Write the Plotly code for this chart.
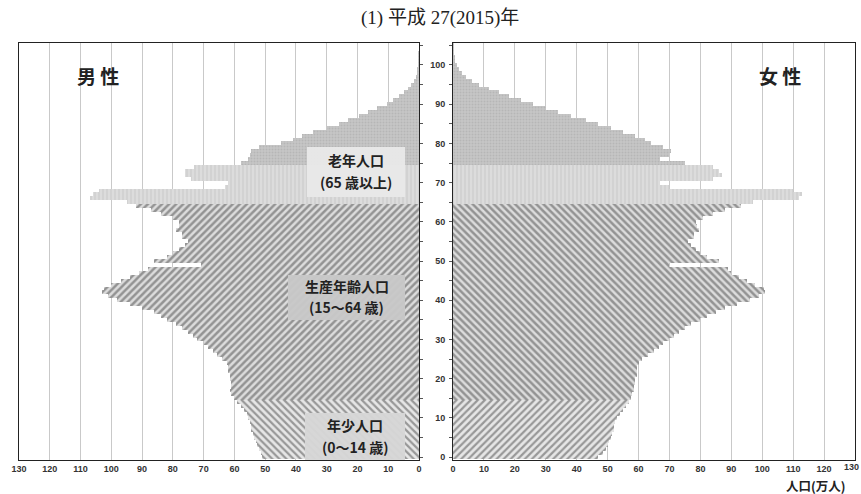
import plotly.graph_objects as go

# ---------------- data (万人) ----------------
ages = list(range(0, 106))

male = [
    51, 51.5, 52, 52.5, 53, 53.5, 54, 54.5, 54.5, 55,          # 0-9
    55.5, 56, 57, 58, 59, 60, 61, 61.5, 61, 61,                # 10-19
    61.5, 61.5, 62, 62, 62.5, 64, 65.5, 67, 68.5, 70,          # 20-29
    72, 73.5, 75, 77, 79, 82, 84, 86, 90, 94,                  # 30-39
    98, 101, 103, 102.5, 100, 97, 94, 91, 88, 71,              # 40-49
    86, 82, 80, 78, 76, 75, 77, 77, 79, 78,                    # 50-59
    78, 80, 84, 87, 92, 95, 107, 106, 104, 63,                 # 60-69
    62, 74, 76, 76, 73, 58, 55.5, 55, 54.5, 52,                # 70-79
    45, 41, 38, 34.5, 30, 26, 23, 19.5, 16.5, 13.5,            # 80-89
    10.5, 8.5, 6.5, 4.8, 3.5, 2.5, 1.7, 1.1, 0.7, 0.45,        # 90-99
    0.3, 0.15, 0.1, 0.05, 0.0, 0.0,                            # 100-105
]

female = [
    47, 48.5, 49.5, 50, 50.5, 51, 51.5, 52, 52, 52.5,          # 0-9
    53, 54, 55, 56, 57, 57.5, 58, 58.5, 58.5, 59,              # 10-19
    59, 59.5, 59.5, 59.5, 60, 61, 63, 65, 66.5, 68,            # 20-29
    70, 71.5, 73, 75, 77, 80, 82, 85, 88, 92,                  # 30-39
    96, 99, 101, 100.5, 97.5, 95, 92.5, 90, 89, 70,            # 40-49
    86, 82, 80, 78.5, 77, 76, 78, 78, 79.5, 79,                # 50-59
    78.5, 81, 84, 88, 93, 97, 112, 113, 110, 70,               # 60-69
    67, 84, 87, 86, 84, 75, 67, 70, 70.5, 68,                  # 70-79
    64, 62, 59, 55, 51, 47, 43, 38, 34, 30,                    # 80-89
    26, 22, 18, 15, 11.5, 8.5, 6, 4.3, 3, 2,                   # 90-99
    1.3, 0.8, 0.5, 0.3, 0.15, 0.08,                            # 100-105
]

groups = [(0, 14), (15, 64), (65, 74), (75, 105)]
group_labels = [("年少人口", "(0～14 歳)"), ("生産年齢人口", "(15～64 歳)"),
                ("老年人口", "(65 歳以上)")]
x_ticks = list(range(0, 131, 10))
age_ticks = list(range(0, 106, 5))
age_ticktext = [str(a) if a % 10 == 0 else "" for a in age_ticks]

# ---------------- styles ----------------
W, H = 861, 494
def px(x): return x / W
def py(y): return 1 - y / H

pat = {
    "left": [
        dict(shape="\\", fgcolor="#4a4a4a", bgcolor="#e6e6e6", size=5, solidity=0.45),
        dict(shape="/", fgcolor="#4a4a4a", bgcolor="#dcdcdc", size=5, solidity=0.5),
        dict(shape="|", fgcolor="#f4f4f4", bgcolor="#d2d2d2", size=4, solidity=0.3),
        dict(shape=".", fgcolor="#a6a6a6", bgcolor="#c6c6c6", size=3, solidity=0.35),
    ],
    "right": [
        dict(shape="/", fgcolor="#4a4a4a", bgcolor="#e6e6e6", size=5, solidity=0.45),
        dict(shape="\\", fgcolor="#4a4a4a", bgcolor="#dcdcdc", size=5, solidity=0.5),
        dict(shape="|", fgcolor="#f4f4f4", bgcolor="#d2d2d2", size=4, solidity=0.3),
        dict(shape=".", fgcolor="#a6a6a6", bgcolor="#c6c6c6", size=3, solidity=0.35),
    ],
}

fig = go.Figure()
for side, vals, xa, ya in [("left", male, "x", "y"), ("right", female, "x2", "y2")]:
    for gi, (a0, a1) in enumerate(groups):
        ys = ages[a0:a1 + 1]
        xs = vals[a0:a1 + 1]
        fig.add_trace(go.Bar(
            y=ys, x=xs, orientation="h", xaxis=xa, yaxis=ya,
            width=1.0,
            marker=dict(color=pat[side][gi]["bgcolor"], line=dict(width=0),
                        pattern=pat[side][gi]),
            showlegend=False, hoverinfo="skip",
        ))

ydom = [py(459.5), py(43)]
tickfont = dict(family="Liberation Sans, Arial", size=9, color="#333333", weight="bold")
common_x = dict(
    tickvals=x_ticks, showgrid=True, gridcolor="#c9c9c9", gridwidth=1,
    showline=True, mirror=True, linecolor="#222222", linewidth=1,
    ticks="", tickfont=tickfont, zeroline=False, automargin=False,
    ticklabelstandoff=1, fixedrange=True,
)
common_y = dict(
    range=[-0.6, 105.6], domain=ydom, tickvals=age_ticks, showgrid=False,
    showline=True, mirror=True, linecolor="#222222", linewidth=1,
    ticks="outside", ticklen=3, tickcolor="#555555", zeroline=False,
    automargin=False, fixedrange=True,
)

fig.update_layout(
    width=W, height=H,
    margin=dict(l=0, r=0, t=0, b=0),
    paper_bgcolor="white", plot_bgcolor="white",
    barmode="overlay", bargap=0,
    xaxis=dict(domain=[px(19), px(419)], range=[130, 0], anchor="y", **common_x),
    xaxis2=dict(domain=[px(453), px(855)], range=[0, 130], anchor="y2", **common_x),
    yaxis=dict(anchor="x", side="right", showticklabels=False, **common_y),
    yaxis2=dict(anchor="x2", side="left", ticktext=age_ticktext, showticklabels=True,
                tickfont=tickfont, ticklabelstandoff=2, **common_y),
)

cjk = "Noto Sans CJK JP"
serif = "Liberation Serif, DejaVu Serif, Noto Sans CJK JP"
ann = [
    dict(x=px(440), y=py(18), text="(1) 平成 27(2015)年",
         font=dict(family=serif, size=19, color="#222")),
    dict(x=px(98), y=py(75), text="男 性",
         font=dict(family=cjk, size=19, color="#222", weight="bold")),
    dict(x=px(780), y=py(75), text="女 性",
         font=dict(family=cjk, size=19, color="#222", weight="bold")),
    dict(x=px(815), y=py(485), text="人口(万人)",
         font=dict(family=cjk, size=12.5, color="#222", weight="bold")),
]
for a in ann:
    a.update(xref="paper", yref="paper", showarrow=False, xanchor="center", yanchor="middle")
    fig.add_annotation(**a)

# rightmost "130" tick label sits at the page edge in the reference
fig.add_annotation(x=px(861), y=py(467), xref="paper", yref="paper", text="130",
                   showarrow=False, xanchor="right", yanchor="middle", font=tickfont)

# group label boxes: (x0, x1, y0, y1, line1_y, line2_y, fill)
box_geom = [
    (305, 405, 413, 460, 425, 447, "rgba(214,214,214,0.96)"),
    (288, 405, 275, 320, 286, 307, "rgba(200,200,200,0.96)"),
    (307, 405, 147, 197, 160, 182, "rgba(232,232,232,0.96)"),
]
for (l1, l2), (x0, x1, y0, y1, ly1, ly2, fill) in zip(group_labels, box_geom):
    fig.add_shape(type="rect", xref="paper", yref="paper",
                  x0=px(x0), x1=px(x1), y0=py(y1), y1=py(y0),
                  fillcolor=fill, line=dict(width=0), layer="above")
    cx = px((x0 + x1) / 2)
    for txt, yy in [(l1, ly1), (l2, ly2)]:
        fig.add_annotation(x=cx, y=py(yy), xref="paper", yref="paper", text=txt,
                           showarrow=False, xanchor="center", yanchor="middle",
                           font=dict(family=cjk, size=14, color="#222", weight="bold"))

fig.write_html("out.html", config={"displayModeBar": False},
               post_script="document.body.style.margin='0';document.body.style.padding='0';")
